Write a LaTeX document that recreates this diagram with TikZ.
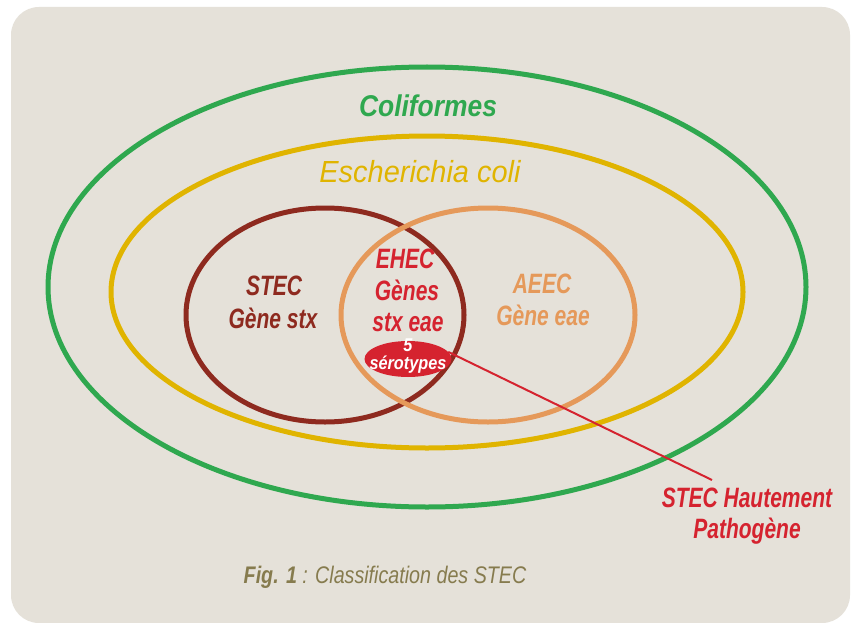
\documentclass[tikz,border=0pt]{standalone}
\usepackage{fontspec}
\usetikzlibrary{shapes.geometric}
\newfontfamily\labA[FakeStretch=0.75]{Liberation Sans}
\newfontfamily\labB[FakeStretch=0.88]{Liberation Sans}
\newfontfamily\labC[FakeStretch=0.95]{Liberation Sans}
\newfontfamily\labD[FakeStretch=0.82]{Liberation Sans}
\definecolor{bgc}{HTML}{E5E1D9}
\definecolor{colgreen}{HTML}{2FA84F}
\definecolor{colyellow}{HTML}{E0B400}
\definecolor{coldred}{HTML}{8E2A1F}
\definecolor{colorange}{HTML}{E5995A}
\definecolor{colred}{HTML}{D5232F}
\definecolor{colcap}{HTML}{867B4E}
\tikzset{
  ring/.style={line width=5pt},
  lbl/.style={anchor=base, inner sep=0pt, font=\labA\bfseries\itshape\fontsize{28}{28}\selectfont},
  serolbl/.style={anchor=base, inner sep=0pt, text=white, font=\labB\bfseries\itshape\fontsize{18.5}{18}\selectfont},
}
\begin{document}
\begin{tikzpicture}[x=1pt,y=-1pt]
\useasboundingbox (0,0) rectangle (853,623);
\fill[white] (0,0) rectangle (853,623);
\fill[bgc, rounded corners=28pt] (11,7) rectangle (850,623);
% ellipses
\draw[ring, colgreen] (427,287) ellipse [x radius=379pt, y radius=220pt];
\draw[ring, colyellow] (427,292) ellipse [x radius=316pt, y radius=156pt];
\draw[ring, coldred] (325,315) ellipse [x radius=139pt, y radius=107pt];
\draw[ring, colorange] (488,315) ellipse [x radius=147pt, y radius=107pt];
% labels
\node[lbl, text=colgreen, font=\labB\bfseries\itshape\fontsize{30}{30}\selectfont] (coli) at (428,117) {Coliformes};
\node[lbl, text=colyellow, font=\labC\itshape\fontsize{30.5}{30}\selectfont] (ecoli) at (420,182) {Escherichia coli};
\node[lbl, text=coldred] (stec1) at (274,295) {STEC};
\node[lbl, text=coldred] (stec2) at (273,328) {Gène stx};
\node[lbl, text=colred] (ehec1) at (405,268) {EHEC};
\node[lbl, text=colred] (ehec2) at (407,300) {Gènes};
\node[lbl, text=colred] (ehec3) at (408,331) {stx eae};
\node[lbl, text=colorange] (aeec1) at (542,293) {AEEC};
\node[lbl, text=colorange] (aeec2) at (543,325) {Gène eae};
% serotypes
\node[ellipse, fill=colred, minimum width=87pt, minimum height=36pt, inner sep=0pt] (sero) at (408,359) {};
\node[serolbl] (sero1) at (408,351) {5};
\node[serolbl] (sero2) at (408,369) {sérotypes};
% connector
\coordinate (cend) at (712,480);
\draw[colred, line width=2pt] (sero.10) -- (cend);
\node[lbl, text=colred] (hp1) at (747,507) {STEC Hautement};
\node[lbl, text=colred] (hp2) at (747,538) {Pathogène};
% caption
\node[anchor=base, inner sep=0pt, text=colcap, font=\labD\itshape\fontsize{24}{24}\selectfont] (cap) at (385,583) {{\bfseries Fig. 1} : Classification des STEC};
\end{tikzpicture}
\end{document}
